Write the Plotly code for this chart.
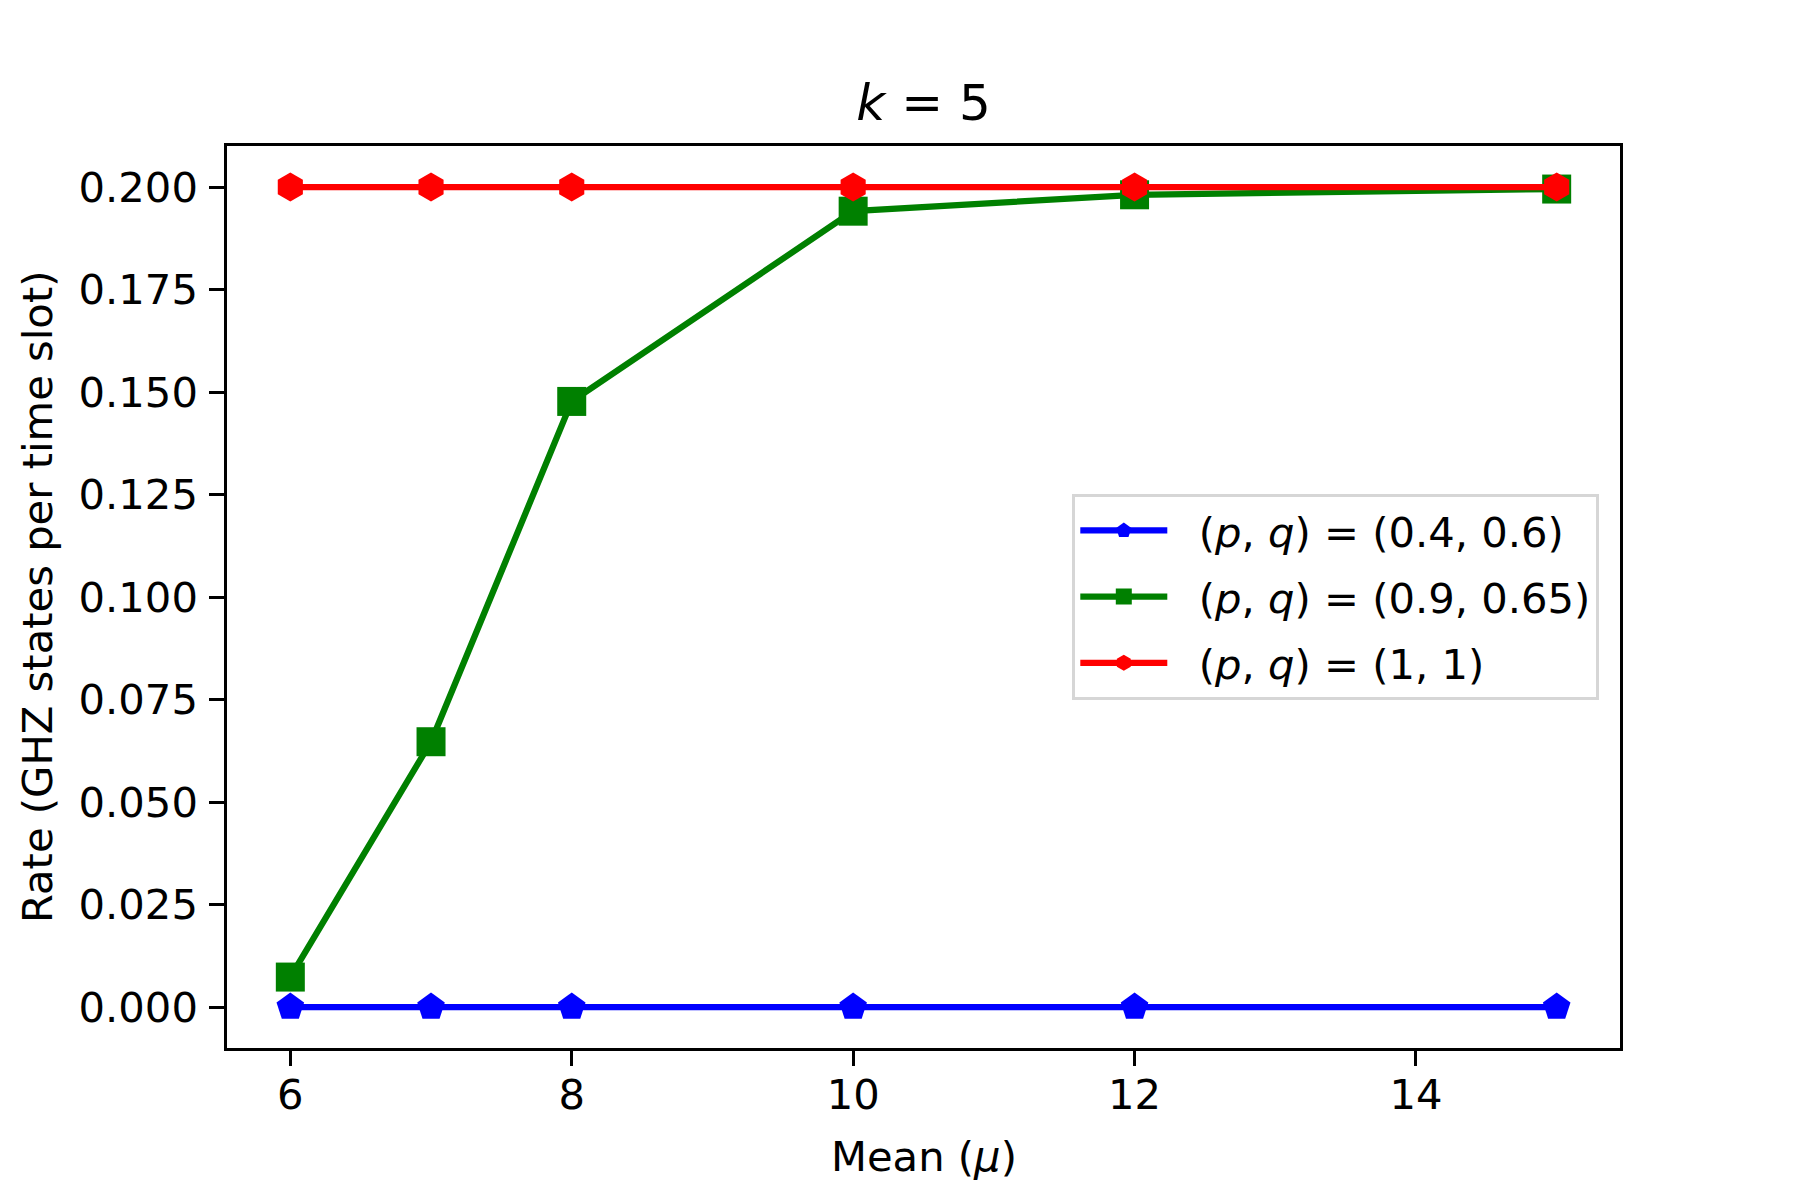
import plotly.graph_objects as go

# Data
mu = [6, 7, 8, 10, 12, 15]
rate_04_06 = [0.0, 0.0, 0.0, 0.0, 0.0, 0.0]
rate_09_065 = [0.0073, 0.0647, 0.1477, 0.1941, 0.1981, 0.1995]
rate_1_1 = [0.2, 0.2, 0.2, 0.2, 0.2, 0.2]

series_names = ["(<i>p</i>, <i>q</i>) = (0.4, 0.6)",
                "(<i>p</i>, <i>q</i>) = (0.9, 0.65)",
                "(<i>p</i>, <i>q</i>) = (1, 1)"]
series_values = [rate_04_06, rate_09_065, rate_1_1]
colors = ["#0000ff", "#008000", "#ff0000"]
symbols = ["pentagon", "square", "hexagon"]
sizes = [29, 29, 29]

FONT = "DejaVu Sans"
fig = go.Figure()
for i, (name, vals, c, s, sz) in enumerate(zip(series_names, series_values, colors, symbols, sizes)):
    fig.add_trace(go.Scatter(
        x=mu, y=vals, mode="lines+markers", name="&nbsp;&nbsp;" + name,
        legendgroup=f"g{i}",
        line=dict(color=c, width=6.25),
        marker=dict(symbol=s, size=sz, color=c, line=dict(width=0)),
    ))

axis_common = dict(
    showline=True, linecolor="black", linewidth=3.3, mirror=True,
    ticks="outside", ticklen=14.6, tickwidth=3.3, tickcolor="black",
    showgrid=False, zeroline=False,
    tickfont=dict(family=FONT, size=41.7, color="black"),
)

L, T, W, H = 219, 138, 1393, 902
fig.update_layout(
    width=1800, height=1200,
    margin=dict(l=L, r=1800 - L - W, t=T, b=1200 - T - H, pad=0),
    paper_bgcolor="white", plot_bgcolor="white",
    font=dict(family=FONT, color="black"),
    title=dict(text="<i>k</i> = 5", x=(L + W / 2) / 1800, xanchor="center",
               y=1 - 94 / 1200, yanchor="middle", yref="container",
               font=dict(family=FONT, size=50, color="black")),
    xaxis=dict(range=[5.55, 15.45], tickmode="array", tickvals=[6, 8, 10, 12, 14],
               ticktext=["6", "8", "10", "12", "14"], ticklabelstandoff=-7, **axis_common),
    yaxis=dict(range=[-0.01, 0.21], tickmode="array",
               tickvals=[0, 0.025, 0.05, 0.075, 0.1, 0.125, 0.15, 0.175, 0.2],
               tickformat=".3f", ticklabelstandoff=3, **axis_common),
    legend=dict(x=1 - 21 / W, xanchor="right", y=0.5, yanchor="middle",
                bgcolor="rgba(255,255,255,0.8)", bordercolor="#d6d6d6", borderwidth=3.3,
                font=dict(family=FONT, size=41.7, color="black"),
                itemwidth=87, tracegroupgap=9),
    showlegend=True,
    annotations=[
        dict(text="Mean (<i>μ</i>)", x=0.5, y=0, xref="paper", yref="paper",
             xanchor="center", yanchor="middle", yshift=-108, showarrow=False,
             font=dict(family=FONT, size=41.7, color="black")),
        dict(text="Rate (GHZ states per time slot)", x=0, y=0.5, xref="paper", yref="paper",
             xanchor="center", yanchor="middle", xshift=-190, textangle=-90, showarrow=False,
             font=dict(family=FONT, size=41.7, color="black")),
    ],
)

fig.write_html("out.html")
